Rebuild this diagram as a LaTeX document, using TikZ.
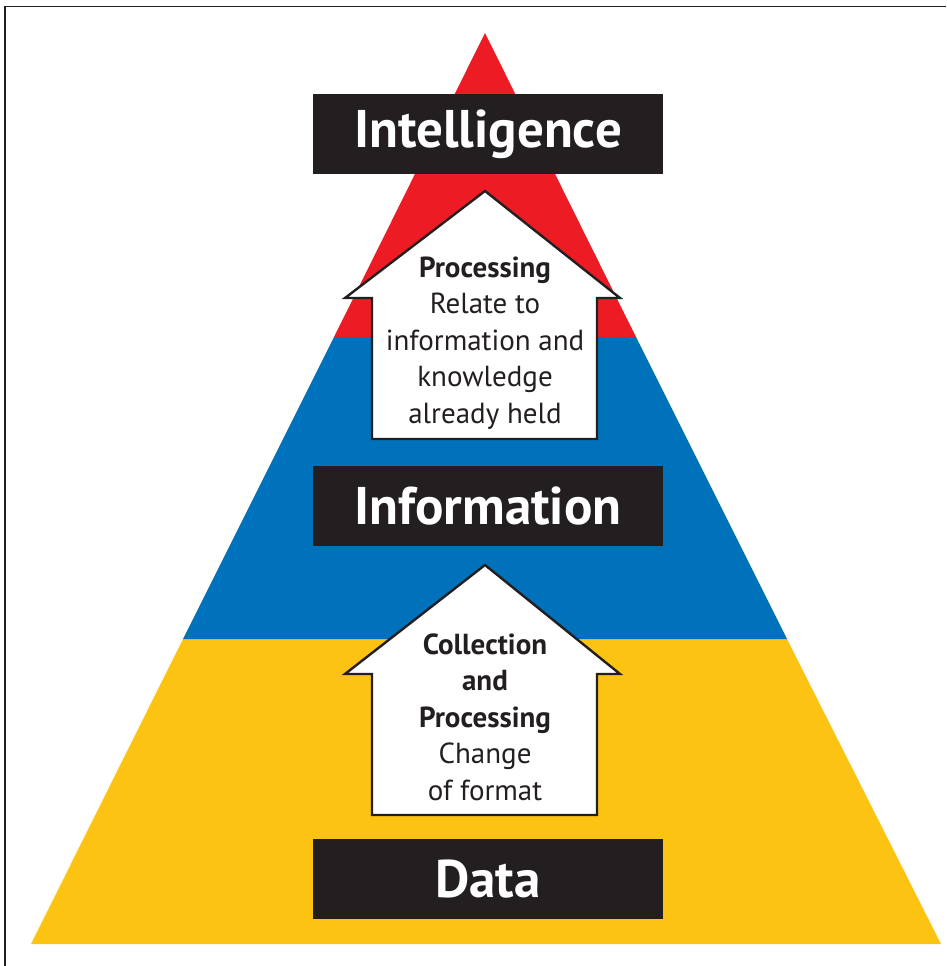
\documentclass[tikz,border=0pt]{standalone}
\usepackage{fontspec}
\setmainfont{PT Sans}
\definecolor{pyrred}{HTML}{ED1C24}
\definecolor{pyrblue}{HTML}{0072BC}
\definecolor{pyryellow}{HTML}{FDC312}
\definecolor{boxblack}{HTML}{231F20}
\begin{document}
\begin{tikzpicture}[x=1pt,y=-1pt,
  levelbox/.style={fill=boxblack,text=white,font=\fontsize{53}{56}\selectfont\bfseries,
    minimum width=350pt,minimum height=80pt,inner sep=0pt,anchor=center},
  uparrow/.style={draw=boxblack,fill=white,line width=2.4pt,line join=miter},
  arrowtext/.style={align=center,text=boxblack,font=\fontsize{29}{36.5}\selectfont,inner sep=0pt}]
  \useasboundingbox (0,0) rectangle (946,966);
  % frame lines (top and left only)
  \draw[line width=1.6pt,boxblack] (5,966) -- (5,6.5) -- (946,6.5);
  % pyramid layers
  \fill[pyryellow] (31,944) -- (941,944) -- (787,639) -- (183,639) -- cycle;
  \fill[pyrblue] (183,639) -- (787,639) -- (636,337) -- (334,337) -- cycle;
  \fill[pyrred] (334,337) -- (636,337) -- (485,33) -- cycle;
  % level labels
  \node[levelbox] (intel) at (488,134) {Intelligence};
  \node[levelbox] (info) at (488,506) {Information};
  \node[levelbox] (data) at (488,879) {Data};
  % upward arrows
  \draw[uparrow] (372,439) -- (372,298) -- (345,298) -- (485,191) -- (620,298) -- (597,298) -- (597,439) -- cycle;
  \draw[uparrow] (372,815) -- (372,674) -- (345,674) -- (485,565) -- (620,674) -- (597,674) -- (597,815) -- cycle;
  \node[arrowtext] (proc) at (485,343) {\textbf{Processing}\\Relate to\\information and\\knowledge\\already held};
  \node[arrowtext] (coll) at (485,717) {\textbf{Collection}\\\textbf{and}\\\textbf{Processing}\\Change\\of format};
\end{tikzpicture}
\end{document}
